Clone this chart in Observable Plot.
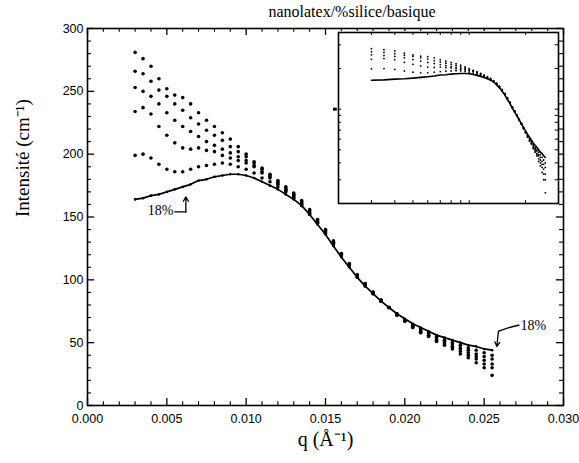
<!DOCTYPE html>
<html><head><meta charset="utf-8">
<script src="https://cdn.jsdelivr.net/npm/d3@7"></script>
<script src="https://cdn.jsdelivr.net/npm/@observablehq/plot@0.6"></script>
<style>
body{margin:0;background:#fff;width:579px;height:463px;position:relative;overflow:hidden}
#title{height:22px;line-height:24px;font-family:"Liberation Serif",serif;font-size:16px;position:relative}
#title span{position:absolute;left:352px;transform:translateX(-50%);white-space:nowrap}
#inset{position:absolute;left:337px;top:31px}
svg{display:block}
</style></head><body>
<div id="title"><span>nanolatex/%silice/basique</span></div>
<div id="main"></div><div id="inset"></div>
<script>
const titleText = "nanolatex/%silice/basique";
const xLabel = "q (Å⁻¹)";
const yLabel = "Intensité (cm⁻¹)";
const q = [0.0030,0.0035,0.0040,0.0045,0.0050,0.0055,0.0060,0.0065,0.0070,0.0075,0.0080,0.0085,0.0090,0.0095,0.0100,0.0105,0.0110,0.0115,0.0120,0.0125,0.0130,0.0135,0.0140,0.0145,0.0150,0.0155,0.0160,0.0165,0.0170,0.0175,0.0180,0.0185,0.0190,0.0195,0.0200,0.0205,0.0210,0.0215,0.0220,0.0225,0.0230,0.0235,0.0240,0.0245,0.0250,0.0255];
const s1 = [281,276,270,260,252,247,245,240,233,227,222,217,212,206,200,194,189,184,179,174,169,163,156,148,140,131,121,113,104,97,90,84,78,72,67,62,58,55,51,48,45,41,38,34,30,24];
const s2 = [266,264,258,251,246,240,235,229,224,219,215,211,206,202,198,193,188,183,178,173,168,162,155,147,139,130,121,112,104,97,90,84,78,72,67,63,58,56,52,49,46,43,40,37,33,30];
const s3 = [253,250,246,240,233,227,222,218,214,210,207,204,201,198,195,191,186,182,177,172,167,161,154,146,139,130,120,112,103,96,90,83,78,72,68,63,59,56,53,50,47,45,42,39,36,33];
const s4 = [234,237,232,222,215,209,205,204,205,203,202,199,197,195,193,190,185,181,176,171,166,160,153,146,138,129,120,111,103,96,89,83,78,73,68,64,60,57,54,51,49,46,44,41,39,37];
const s5 = [199,200,197,192,188,186,186,188,190,191,192,193,192,190,188,185,181,178,174,170,165,159,152,145,137,128,119,111,102,95,89,83,78,73,68,64,61,58,55,52,50,48,46,44,42,40];
const s18 = [164,165,167,168,170,172,174,176,179,180,182,183,184,184,183,181,178,175,172,168,164,159,152,144,136,127,118,110,102,95,89,83,78,73,69,65,62,59,56,54,52,50,48,47,45,44];
const seriesNames = ["a","b","c","d","e","18%"];
const seriesValues = [s1,s2,s3,s4,s5,s18];
const xMajor = [0,0.005,0.010,0.015,0.020,0.025,0.030];
const xMinor = [0.001,0.002,0.003,0.004,0.006,0.007,0.008,0.009,0.011,0.012,0.013,0.014,0.016,0.017,0.018,0.019,0.021,0.022,0.023,0.024,0.026,0.027,0.028,0.029];
const yMajor = [0,50,100,150,200,250,300];
const yMinor = [10,20,30,40,60,70,80,90,110,120,130,140,160,170,180,190,210,220,230,240,260,270,280,290];
const insetXTicks = [0.003,0.004,0.005,0.006,0.007,0.008,0.009,0.01,0.02];
const insetYTicks = [30,40,50,60,70,80,90,100,200,300];
const noteLeft = {label:"18%", q:0.0046, I:155, path:[[0.0055,154],[0.0062,154]], head:[0.0062,154,0.0062,166]};
const noteRight = {label:"18%", q:0.0281, I:64, path:[[0.0272,64],[0.0265,62],[0.0259,59]], head:[0.0259,59,0.0258,47]};

const rows = seriesNames.flatMap((name,k)=>q.map((x,i)=>({q:x, I:seriesValues[k][i], series:name})));
const pts = rows.filter(d=>d.series!=="18%");
const l18 = rows.filter(d=>d.series==="18%");
const P = a=>a.map(([x,y])=>({x,y}));

const main = Plot.plot({
  width:579, height:441, marginTop:6, marginBottom:58, marginLeft:87, marginRight:16,
  style:{fontFamily:"Liberation Sans, sans-serif", fontSize:"12.5px", background:"white", color:"black", overflow:"visible"},
  x:{domain:[0,0.03], ticks:6, tickSize:0, tickPadding:9, tickFormat:d=>d.toFixed(3), label:null},
  y:{domain:[0,300], ticks:6, tickSize:0, tickPadding:4, label:null},
  marks:[
    Plot.ruleX(xMajor,{x:d=>d, y1:0, y2:5.5, strokeWidth:1.3}),
    Plot.ruleX(xMinor,{x:d=>d, y1:0, y2:3, strokeWidth:1.1}),
    Plot.ruleX(xMajor,{x:d=>d, y1:300, y2:294.5, strokeWidth:1.3}),
    Plot.ruleX(xMinor,{x:d=>d, y1:300, y2:297, strokeWidth:1.1}),
    Plot.ruleY(yMajor,{y:d=>d, x1:0, x2:0.00045, strokeWidth:1.3}),
    Plot.ruleY(yMinor,{y:d=>d, x1:0, x2:0.00025, strokeWidth:1.1}),
    Plot.ruleY(yMajor,{y:d=>d, x1:0.03, x2:0.02955, strokeWidth:1.3}),
    Plot.ruleY(yMinor,{y:d=>d, x1:0.03, x2:0.02975, strokeWidth:1.1}),
    Plot.frame({stroke:"black", strokeWidth:1.6}),
    Plot.dot(pts,{x:"q", y:"I", r:1.8, fill:"black", stroke:null}),
    Plot.line(l18,{x:"q", y:"I", stroke:"black", strokeWidth:1.7}),
    Plot.dot(l18,{x:"q", y:"I", r:1.3, fill:"black", stroke:null}),
    Plot.text([noteLeft],{x:"q", y:"I", text:"label", fontFamily:"Liberation Serif, serif", fontSize:14}),
    Plot.line(P(noteLeft.path),{x:"x", y:"y", stroke:"black", strokeWidth:1.3}),
    Plot.arrow([noteLeft.head],{x1:d=>d[0], y1:d=>d[1], x2:d=>d[2], y2:d=>d[3], headLength:6, strokeWidth:1.3}),
    Plot.text([noteRight],{x:"q", y:"I", text:"label", fontFamily:"Liberation Serif, serif", fontSize:14}),
    Plot.line(P(noteRight.path),{x:"x", y:"y", curve:"basis", stroke:"black", strokeWidth:1.3}),
    Plot.arrow([noteRight.head],{x1:d=>d[0], y1:d=>d[1], x2:d=>d[2], y2:d=>d[3], headLength:6, strokeWidth:1.3}),
    Plot.text([xLabel],{frameAnchor:"bottom", dy:40, fontFamily:"Liberation Serif, serif", fontSize:20}),
    Plot.text([yLabel],{frameAnchor:"left", dx:-65, rotate:-90, fontFamily:"Liberation Serif, serif", fontSize:19})
  ]
});
document.getElementById("main").appendChild(main);

const inset = Plot.plot({
  width:222, height:173, marginTop:1, marginBottom:1, marginLeft:1, marginRight:1,
  style:{background:"white", overflow:"visible"},
  x:{type:"log", domain:[0.002,0.03], axis:null},
  y:{type:"log", domain:[20,370], axis:null},
  marks:[
    Plot.ruleY(insetYTicks,{y:d=>d, x1:0.002, x2:0.00208, strokeWidth:1}),
    Plot.ruleY(insetYTicks,{y:d=>d, x1:0.03, x2:0.0288, strokeWidth:1}),
    Plot.ruleX(insetXTicks,{x:d=>d, y1:370, y2:352, strokeWidth:1}),
    Plot.ruleX(insetXTicks,{x:d=>d, y1:20, y2:21, strokeWidth:1}),
    Plot.ruleY([100],{x1:0.00188, x2:0.00197, strokeWidth:3}),
    Plot.frame({stroke:"black", strokeWidth:1.6}),
    Plot.dot(pts,{x:"q", y:"I", r:0.9, fill:"black", stroke:null}),
    Plot.line(l18,{x:"q", y:"I", stroke:"black", strokeWidth:1.6})
  ]
});
document.getElementById("inset").appendChild(inset);
</script>
</body></html>
